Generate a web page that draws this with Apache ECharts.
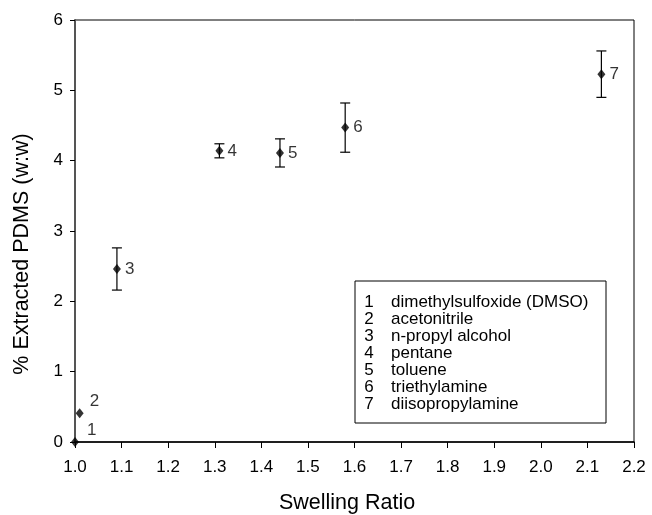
<!DOCTYPE html>
<html><head><meta charset="utf-8">
<script src="https://cdn.jsdelivr.net/npm/echarts@6/dist/echarts.min.js"></script>
<style>html,body{margin:0;padding:0;background:#fff}#c{width:652px;height:515px}</style>
</head><body><div id="c"></div>
<script>
var ids = ['1','2','3','4','5','6','7'];
var solvents = ['dimethylsulfoxide (DMSO)','acetonitrile','n-propyl alcohol','pentane','toluene','triethylamine','diisopropylamine'];
var swelling = [1.00, 1.01, 1.09, 1.31, 1.44, 1.58, 2.13];
var extracted = [0.00, 0.41, 2.46, 4.14, 4.11, 4.47, 5.23];
var errors = [0, 0, 0.30, 0.10, 0.20, 0.35, 0.33];
var xTitle = 'Swelling Ratio';
var yTitle = '% Extracted PDMS (w:w)';

var FONT = 'Liberation Sans, Arial, sans-serif';
var chart = echarts.init(document.getElementById('c'));

var pts = swelling.map(function(x,i){
  var lab = {show:true, position:'right', distance:4};
  if (i===0) lab = {show:true, position:'right', distance:4, offset:[4,-12]};
  if (i===1) lab = {show:true, position:'right', distance:4, offset:[2,-12]};
  return {value:[x, extracted[i]], name:ids[i], label:lab};
});
var errData = swelling.map(function(x,i){ return [x, extracted[i]-errors[i], extracted[i]+errors[i]]; })
  .filter(function(d,i){ return errors[i]>0; });

var graphics = [{type:'rect', shape:{x:355, y:281, width:251, height:142}, style:{fill:'#fff', stroke:'#000', lineWidth:1}, z:10}];
ids.forEach(function(id,i){
  graphics.push({type:'text', x:369, y:302.5+i*16.9, z:11, style:{text:id, font:'17px '+FONT, fill:'#000', textAlign:'center', textVerticalAlign:'middle'}});
  graphics.push({type:'text', x:391, y:302.5+i*16.9, z:11, style:{text:solvents[i], font:'17px '+FONT, fill:'#000', textAlign:'left', textVerticalAlign:'middle'}});
});

chart.setOption({
  animation:false,
  backgroundColor:'#fff',
  grid:{left:75, right:18, top:20, bottom:73, outerBoundsMode:'none', containLabel:false, show:true, borderColor:'#000', borderWidth:1, backgroundColor:'transparent'},
  xAxis:{type:'value', min:1.0, max:2.2, interval:0.1,
    name:xTitle, nameLocation:'middle', nameGap:50,
    nameTextStyle:{fontFamily:FONT, fontSize:21.5, color:'#000', padding:[0,15,0,0]},
    axisLine:{show:true, onZero:false, lineStyle:{color:'#000', width:1.5}},
    axisTick:{show:true, inside:false, length:6, lineStyle:{color:'#000'}},
    axisLabel:{fontFamily:FONT, fontSize:17, color:'#000', margin:17, formatter:function(v){return v.toFixed(1);}},
    splitLine:{show:false}},
  yAxis:{type:'value', min:0, max:6, interval:1,
    name:yTitle, nameLocation:'middle', nameGap:42,
    nameTextStyle:{fontFamily:FONT, fontSize:21.5, color:'#000', padding:[0,46,0,0]},
    axisLine:{show:true, onZero:false, lineStyle:{color:'#555', width:2}},
    axisTick:{show:true, inside:false, length:5, lineStyle:{color:'#000'}},
    axisLabel:{fontFamily:FONT, fontSize:17, color:'#000', margin:12},
    splitLine:{show:false}},
  series:[
    {type:'custom', data:errData, z:2,
      renderItem:function(params, api){
        var x = api.value(0);
        var lo = api.coord([x, api.value(1)]);
        var hi = api.coord([x, api.value(2)]);
        var w = 5;
        var st = {stroke:'#000', lineWidth:1.2};
        return {type:'group', children:[
          {type:'line', shape:{x1:lo[0], y1:lo[1], x2:hi[0], y2:hi[1]}, style:st},
          {type:'line', shape:{x1:lo[0]-w, y1:lo[1], x2:lo[0]+w, y2:lo[1]}, style:st},
          {type:'line', shape:{x1:hi[0]-w, y1:hi[1], x2:hi[0]+w, y2:hi[1]}, style:st}
        ]};
      }},
    {type:'scatter', data:pts, symbol:'diamond', symbolSize:[8,10], z:3,
      itemStyle:{color:'#000'},
      label:{show:true, position:'right', formatter:'{b}', fontFamily:FONT, fontSize:17, color:'#000'}}
  ],
  graphic:graphics
});
</script></body></html>
